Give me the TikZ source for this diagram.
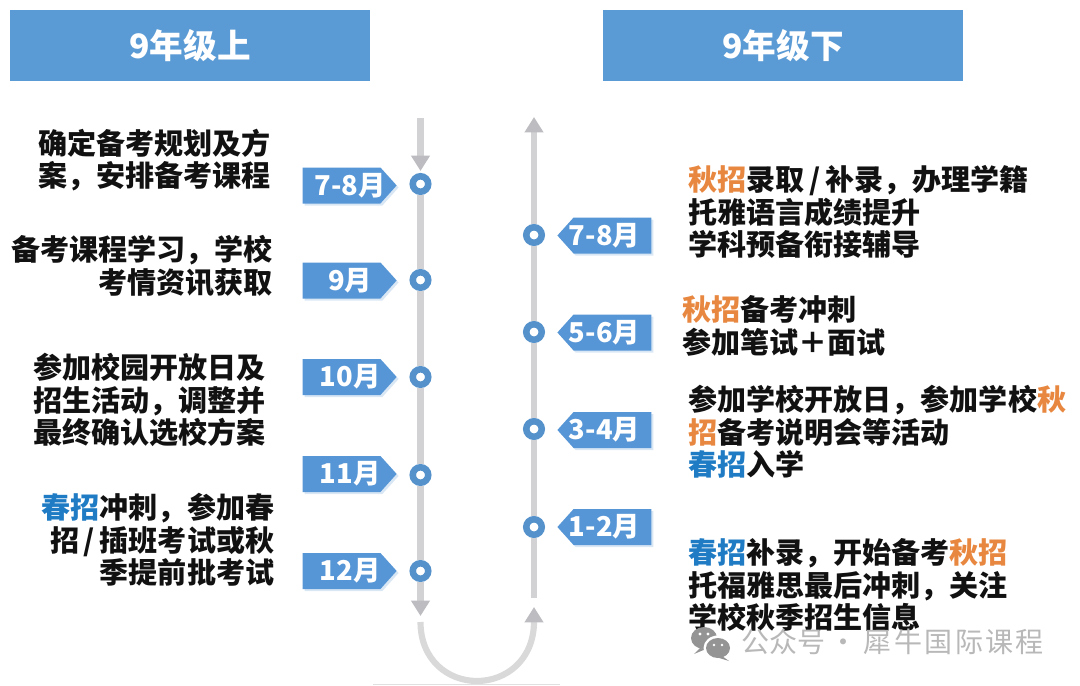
\documentclass[tikz,border=0pt]{standalone}
\usepackage{fontspec}
\setmainfont{Noto Sans CJK SC}
\usetikzlibrary{arrows.meta,shapes.symbols,shadows}
\definecolor{hdr}{HTML}{5B9BD5}
\definecolor{tagblue}{HTML}{5696D6}
\definecolor{ringblue}{HTML}{5592CC}
\definecolor{rail}{HTML}{D2D2D4}
\definecolor{tiphead}{HTML}{BDBDC1}
\definecolor{orangetxt}{HTML}{E8873F}
\definecolor{bluetxt}{HTML}{1E7BC4}
\definecolor{ink}{HTML}{111111}
\newcommand{\og}[1]{\textcolor{orangetxt}{#1}}
\newcommand{\bl}[1]{\textcolor{bluetxt}{#1}}
\newcommand{\slashgap}{\hspace{3.5pt}/\hspace{3.5pt}}
\newcommand{\tl}[1]{\makebox[0pt]{\hspace{12.8pt}#1}}
\newcommand{\tr}[1]{\makebox[0pt]{#1\hspace{12pt}}}
\newcommand{\wg}{\hspace{1.8pt}}
\tikzset{
  x=0.75pt,y=-0.75pt,
  header/.style={fill=hdr,text=white,font=\fontsize{25.2pt}{28pt}\selectfont\bfseries,minimum width=270pt,minimum height=53.25pt,inner sep=0pt},
  tagshape/.style={signal,fill=tagblue,text=white,draw=none,minimum width=70.5pt,minimum height=27pt,inner sep=0pt,
    signal pointer angle=96,font=\fontsize{20.5pt}{22pt}\selectfont\bfseries,
    drop shadow={shadow xshift=1.5pt,shadow yshift=-1.5pt,fill=tagblue,opacity=.22}},
  tagL/.style={tagshape,signal to=east},
  tagR/.style={tagshape,signal to=west},
  ring/.style={circle,draw=ringblue,fill=white,line width=4.9pt,minimum size=11.6pt,inner sep=0pt},
  railline/.style={draw=rail,line width=4.6pt},
  railarrow/.style={railline,-{Triangle[width=13.5pt,length=11.5pt,color=tiphead]}},
  note/.style={text=ink,font=\fontsize{21.8pt}{24.4pt}\selectfont\bfseries,inner sep=0pt},
  noteR/.style={note,align=right,anchor=east},
  noteS/.style={note,align=left,anchor=west},
  wmtext/.style={text=black!28,font=\fontsize{21pt}{24pt}\selectfont,inner sep=0pt,anchor=west},
}
\begin{document}
\begin{tikzpicture}
\useasboundingbox (0,0) rectangle (1080,685);
\fill[white] (0,0) rectangle (1080,685);
% headers
\node[header] (h1) at (190,45.5) {\raisebox{1.2pt}{9年级上}};
\node[header] (h2) at (783,45.5) {\raisebox{1.2pt}{9年级下}};
% rails
\coordinate (ltop) at (420.5,118);
\coordinate (lend) at (420.5,616);
\coordinate (rtop) at (534,117);
\coordinate (rlow) at (534,598);
\coordinate (ustart) at (420.5,622);
\coordinate (uend) at (534,607);
\node[ring] (a1) at (420.5,184) {};
\node[ring] (a2) at (420.5,280) {};
\node[ring] (a3) at (420.5,377) {};
\node[ring] (a4) at (420.5,475) {};
\node[ring] (a5) at (420.5,571) {};
\node[ring] (b1) at (534,235) {};
\node[ring] (b2) at (534,332) {};
\node[ring] (b3) at (534,429) {};
\node[ring] (b4) at (534,527) {};
\draw[railarrow,shorten >=1.5pt] (ltop) -- (a1);
\draw[railline] (a1) -- (a2);
\draw[railline] (a2) -- (a3);
\draw[railline] (a3) -- (a4);
\draw[railline] (a4) -- (a5);
\draw[railarrow] (a5) -- (lend);
\draw[railarrow] (b1) -- (rtop);
\draw[railline] (b2) -- (b1);
\draw[railline] (b3) -- (b2);
\draw[railline] (b4) -- (b3);
\draw[railline] (rlow) -- (b4);
\draw[railarrow,draw=rail!85!white] (ustart) .. controls (420.5,660) and (448,681) .. (477,681) .. controls (506,681) and (534,660) .. (uend);
\draw[black!12,line width=1pt] (373,684.5) -- (560,684.5);
% tags
\node[tagL] (t1) at (341.5,185.5) {\tl{7-8月}};
\node[tagL] (t2) at (341.5,280.5) {\tl{9月}};
\node[tagL] (t3) at (341.5,377) {\tl{10月}};
\node[tagL] (t4) at (341.5,474) {\tl{11月}};
\node[tagL] (t5) at (341.5,571) {\tl{12月}};
\node[tagR] (s1) at (612.5,235.5) {\tr{7-8月}};
\node[tagR] (s2) at (612.5,332.5) {\tr{5-6月}};
\node[tagR] (s3) at (612.5,430) {\tr{3-4月}};
\node[tagR] (s4) at (612.5,527) {\tr{1-2月}};
% notes
\node[noteR] (n1) at (271,160) {确定备考规划及方\\案，安排备考课程};
\node[noteR] (n2) at (273,266) {备考课程学习，学校\\考情资讯获取};
\node[noteR] (n3) at (266,400) {参加校园开放日及\\招生活动，调整并\\最终确认选校方案};
\node[noteR] (n5) at (274.5,540) {\bl{春招}冲刺，参加春\\招\slashgap{}插班考试或秋\\季提前批考试};
\node[noteS] (m1) at (688,212) {\og{秋招}录取\slashgap{}补录，办理学籍\\托雅语言成绩提升\\学科预备衔接辅导};
\node[noteS] (m2) at (682,326) {\og{秋招}备考冲刺\\参加笔试＋面试};
\node[noteS] (m3) at (688,432) {参加学校开放日，参加学校\og{秋}\\\og{招}备考说明会等活动\\\bl{春招}入学};
\node[noteS] (m4) at (688,585) {\bl{春招}补录，开始备考\og{秋招}\\托福雅思最后冲刺，关注\\学校秋季招生信息};
% watermark
\fill[black!42] (704,638) ellipse (13 and 11);
\fill[black!42] (700,648) -- (694,654) -- (706,649) -- cycle;
\fill[white] (718,648) ellipse (14.5 and 12.5);
\fill[black!42] (718,648) ellipse (12 and 10);
\fill[black!42] (722,656) -- (729,661) -- (716,657) -- cycle;
\fill[white] (700,634) circle (1.7) (708,634) circle (1.7) (714,645) circle (1.4) (722,645) circle (1.4);
\node[wmtext] (wm) at (741,642) {公众号\hspace{3pt}·\hspace{5pt}犀\wg{}牛\wg{}国\wg{}际\wg{}课\wg{}程};
\end{tikzpicture}
\end{document}
